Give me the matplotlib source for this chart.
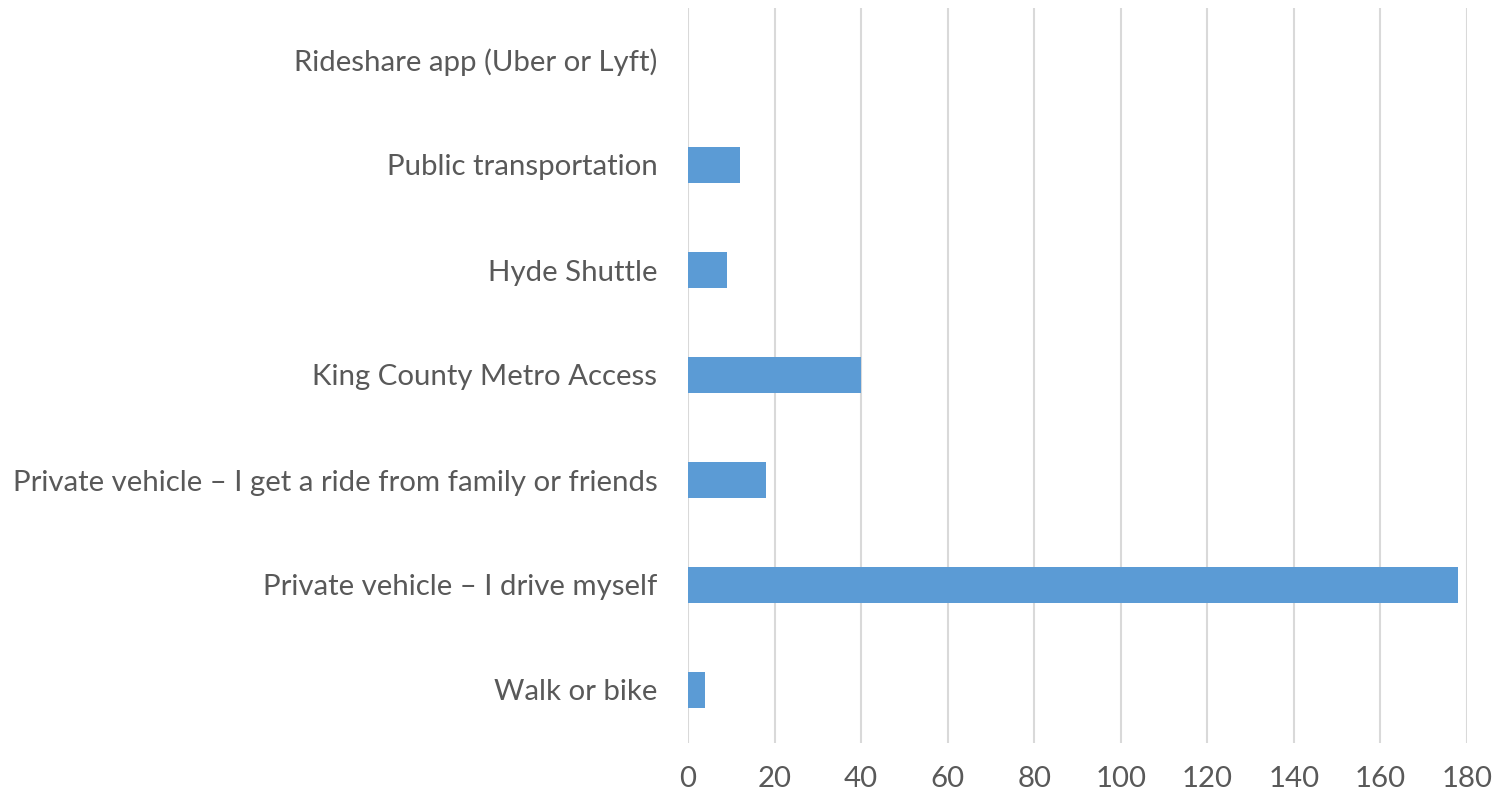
import matplotlib
matplotlib.use("Agg")
import matplotlib.pyplot as plt

categories = [
    "Walk or bike",
    "Private vehicle \u2013 I drive myself",
    "Private vehicle \u2013 I get a ride from family or friends",
    "King County Metro Access",
    "Hyde Shuttle",
    "Public transportation",
    "Rideshare app (Uber or Lyft)",
]
values = [4, 178, 18, 40, 9, 12, 0]
xticks = [0, 20, 40, 60, 80, 100, 120, 140, 160, 180]

plt.rcParams['font.family'] = ['Lato', 'DejaVu Sans']

fig = plt.figure(figsize=(14.96, 7.98), dpi=100)
ax = fig.add_axes([688/1496, 1 - 742.5/798, (1467-688)/1496, (742.5-7.5)/798])

y = range(len(categories))
ax.barh(y, values, height=0.35, color="#5b9bd5", zorder=3)
ax.set_ylim(-0.5, len(categories) - 0.5)
ax.set_xlim(0, 180)
ax.set_xticks(xticks)
ax.set_yticks(list(y))
ax.set_yticklabels(categories)
for s in ax.spines.values():
    s.set_visible(False)
ax.grid(axis="x", color="#d9d9d9", linewidth=1.5, zorder=0)
ax.tick_params(axis="both", length=0, labelsize=21.2, labelcolor="#595959")
ax.tick_params(axis="y", pad=22)
ax.tick_params(axis="x", pad=17)

fig.savefig("out.png", dpi=100)
